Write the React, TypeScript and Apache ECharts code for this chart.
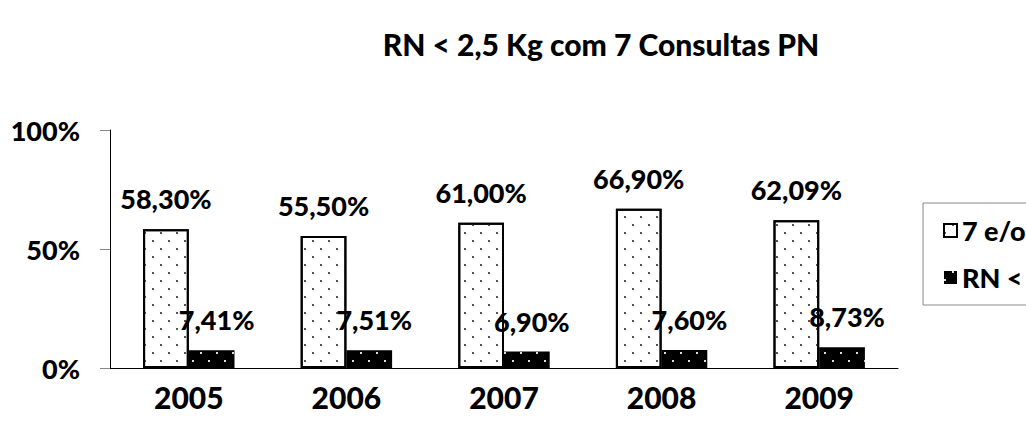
import React, { useEffect, useRef } from "react";
import * as echarts from "echarts";

const titleText = "RN < 2,5 Kg com 7 Consultas PN";
const categories = ["2005", "2006", "2007", "2008", "2009"];
const seriesNames = ["7 e/ou + Consultas PN", "RN < 2,5 Kg"];
const consultas = [58.3, 55.5, 61.0, 66.9, 62.09];
const baixoPeso = [7.41, 7.51, 6.9, 7.6, 8.73];
const yTicks = [0, 50, 100];

const FONT = "Lato";
const W = 900;

const fmt = (v: number) => v.toFixed(2).replace(".", ",") + "%";

export default function App() {
  const ref = useRef<HTMLDivElement>(null);
  useEffect(() => {
    if (!ref.current) return;
    const chart = echarts.init(ref.current, null, { renderer: "svg" });
    const labelStyle = {
      show: true,
      position: "top" as const,
      distance: 17,
      fontFamily: FONT,
      fontWeight: W,
      fontSize: 27,
      color: "#000",
      formatter: (p: any) => fmt(p.value),
    };
    chart.setOption({
      animation: false,
      backgroundColor: "#fff",
      title: {
        text: titleText,
        left: 596,
        top: 24,
        textAlign: "center",
        textStyle: { fontFamily: FONT, fontWeight: W, fontSize: 30, color: "#000" },
      },
      grid: { left: 110, right: 128, top: 130, bottom: 68 },
      legend: {
        orient: "vertical",
        left: 923,
        top: 203,
        icon: "rect",
        itemWidth: 13,
        itemHeight: 13,
        itemGap: 20,
        padding: [14, 10, 14, 20],
        borderColor: "#888",
        borderWidth: 1,
        textStyle: { fontFamily: FONT, fontWeight: W, fontSize: 27, color: "#000" },
        data: seriesNames,
      },
      xAxis: {
        type: "category",
        data: categories,
        axisLine: { lineStyle: { color: "#000", width: 1 } },
        axisTick: { length: 8, lineStyle: { color: "#888" } },
        axisLabel: {
          margin: 14,
          fontFamily: FONT,
          fontWeight: W,
          fontSize: 30,
          color: "#000",
        },
      },
      yAxis: {
        type: "value",
        min: yTicks[0],
        max: yTicks[yTicks.length - 1],
        interval: 50,
        axisLine: { show: true, lineStyle: { color: "#000", width: 1 } },
        axisTick: { show: true, inside: false, length: 10, lineStyle: { color: "#888" } },
        splitLine: { show: false },
        axisLabel: {
          margin: 30,
          formatter: "{value}%",
          fontFamily: FONT,
          fontWeight: W,
          fontSize: 27,
          color: "#000",
        },
      },
      series: [
        {
          name: seriesNames[0],
          type: "bar",
          data: consultas,
          barGap: "0%",
          barCategoryGap: "42%",
          itemStyle: {
            color: "#fff",
            borderColor: "#000",
            borderWidth: 2,
            decal: {
              symbol: "rect",
              symbolSize: 1,
              color: "#555",
              dashArrayX: [[1.5, 13.5], [0, 7.5, 1.5, 6]],
              dashArrayY: [1.5, 6],
            },
          },
          label: labelStyle,
        },
        {
          name: seriesNames[1],
          type: "bar",
          data: baixoPeso,
          itemStyle: {
            color: "#000",
            decal: {
              symbol: "rect",
              symbolSize: 1,
              color: "#ddd",
              dashArrayX: [[1.5, 13.5], [0, 7.5, 1.5, 6]],
              dashArrayY: [1.5, 6],
            },
          },
          label: { ...labelStyle, offset: [5, 0] },
        },
      ],
    });
    return () => chart.dispose();
  }, []);
  return (
    <div
      ref={ref}
      style={{ position: "fixed", left: 0, top: 0, width: 1026, height: 436 }}
    />
  );
}
